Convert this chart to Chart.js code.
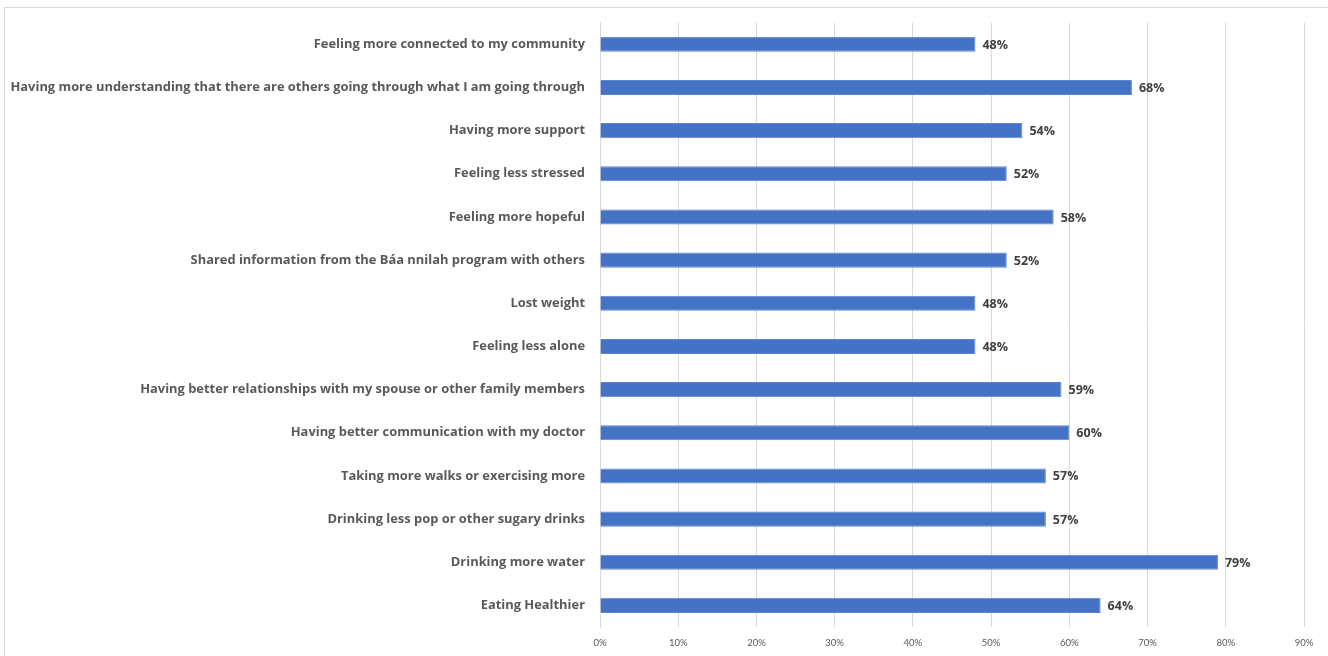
<!DOCTYPE html>
<html>
<head>
<meta charset="utf-8">
<script src="https://cdn.jsdelivr.net/npm/chart.js@4"></script>
<style>
  html, body { margin: 0; padding: 0; background: #fff; }
  #frame { position: absolute; left: 4px; top: 7px; width: 1340px; height: 670px; border: 1px solid #d9d9d9; }
  #wrap { position: absolute; left: 0; top: 0; width: 1328px; height: 656px; }
</style>
</head>
<body>
<div id="frame"></div>
<div id="wrap"><canvas id="c"></canvas></div>
<script>
// categories top to bottom
var categories = [
  "Feeling more connected to my community",
  "Having more understanding that there are others going through what I am going through",
  "Having more support",
  "Feeling less stressed",
  "Feeling more hopeful",
  "Shared information from the Báa nnilah program with others",
  "Lost weight",
  "Feeling less alone",
  "Having better relationships with my spouse or other family members",
  "Having better communication with my doctor",
  "Taking more walks or exercising more",
  "Drinking less pop or other sugary drinks",
  "Drinking more water",
  "Eating Healthier"
];
var percents = [48, 68, 54, 52, 58, 52, 48, 48, 59, 60, 57, 57, 79, 64];
var tickMax = 90;
var tickStep = 10;

var grey = "#595959";

// value labels at the end of each bar
var barLabels = {
  id: "barLabels",
  afterDatasetsDraw: function (chart) {
    var ctx = chart.ctx;
    var meta = chart.getDatasetMeta(0);
    ctx.save();
    ctx.font = "bold 12.5px 'Open Sans'";
    ctx.fillStyle = "#404040";
    ctx.textAlign = "left";
    ctx.textBaseline = "middle";
    meta.data.forEach(function (bar, i) {
      ctx.fillText(percents[i] + "%", bar.x + 7, bar.y + 1);
    });
    ctx.restore();
  }
};

new Chart(document.getElementById("c"), {
  type: "bar",
  data: {
    labels: categories,
    datasets: [{
      data: percents,
      backgroundColor: "#4472C4",
      borderColor: "#5b85d0",
      borderWidth: 1,
      barPercentage: 1,
      categoryPercentage: 0.35
    }]
  },
  options: {
    indexAxis: "y",
    responsive: true,
    maintainAspectRatio: false,
    animation: false,
    layout: { padding: { left: 0, right: 24, top: 21, bottom: 0 } },
    plugins: { legend: { display: false }, tooltip: { enabled: false } },
    scales: {
      x: {
        min: 0,
        max: tickMax,
        ticks: {
          stepSize: tickStep,
          color: grey,
          font: { family: "Lato", size: 9.5 },
          padding: 10,
          callback: function (v) { return v + "%"; }
        },
        grid: { color: "#d9d9d9", drawTicks: false },
        border: { display: false },
        afterFit: function (s) { s.height = 29; }
      },
      y: {
        ticks: {
          color: grey,
          font: { family: "Open Sans", size: 12.9, weight: "bold" },
          padding: 15,
          autoSkip: false
        },
        grid: { display: false, drawTicks: false },
        border: { display: true, color: "#d9d9d9" },
        afterFit: function (s) { s.width = 600; }
      }
    }
  },
  plugins: [barLabels]
});
</script>
</body>
</html>
